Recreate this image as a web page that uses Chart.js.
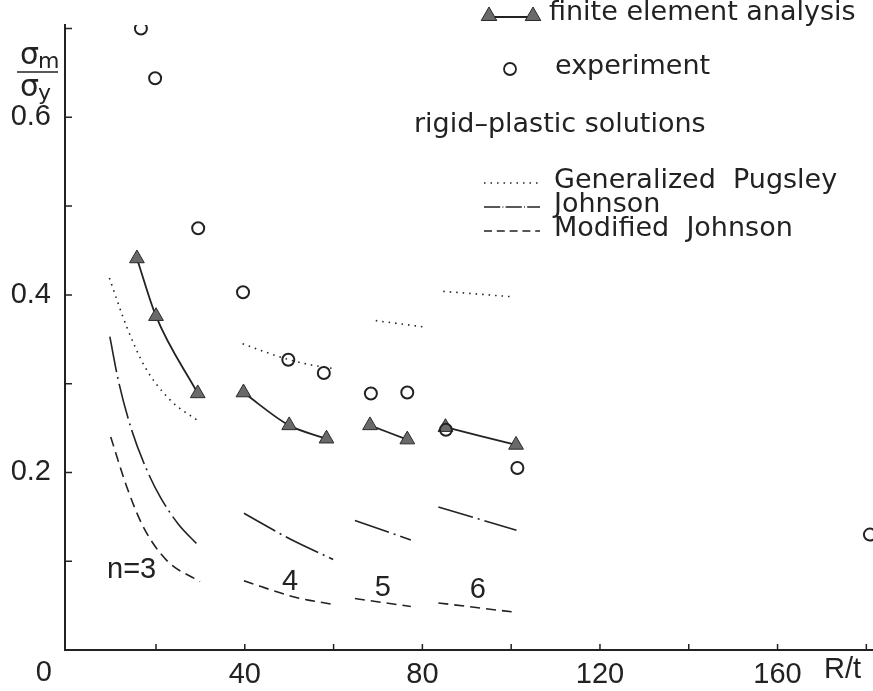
<!DOCTYPE html>
<html>
<head>
<meta charset="utf-8">
<script src="https://cdn.jsdelivr.net/npm/chart.js@4"></script>
<style>
  html, body { margin: 0; padding: 0; background: #fff; }
  #wrap { width: 873px; height: 691px; position: relative; }
</style>
</head>
<body>
<div id="wrap"><canvas id="chart"></canvas></div>
<script>
// tick positions
const xTicks = [20, 40, 60, 80, 100, 120, 140, 160, 180];
const yTicks = [0.1, 0.2, 0.3, 0.4, 0.5, 0.6, 0.7];
const xLabelled = [40, 80, 120, 160];
const yLabelled = [0.2, 0.4, 0.6];

// finite element analysis (R/t, sigma_m/sigma_y), one array per n
const feN3 = [[15.7, 0.441], [20.0, 0.376], [29.4, 0.289]];
const feN4 = [[39.7, 0.290], [50.0, 0.253], [58.4, 0.238]];
const feN5 = [[68.2, 0.253], [76.6, 0.237]];
const feN6 = [[85.2, 0.251], [101.1, 0.231]];

// experiment
const experiment = [
  [16.6, 0.700], [19.8, 0.644], [29.5, 0.475], [39.6, 0.403], [49.8, 0.327],
  [57.8, 0.312], [68.4, 0.289], [76.6, 0.290], [85.3, 0.248], [101.4, 0.205],
  [180.8, 0.130]
];

// rigid-plastic: generalized Pugsley
const pugN3 = [[9.5, 0.419], [13.4, 0.364], [17.5, 0.319], [23.1, 0.282], [29.8, 0.257]];
const pugN4 = [[39.5, 0.345], [45, 0.335], [50, 0.327], [55, 0.321], [60, 0.317]];
const pugN5 = [[69.5, 0.371], [80.2, 0.364]];
const pugN6 = [[84.7, 0.404], [99.9, 0.398]];

// rigid-plastic: Johnson
const johN3 = [[9.6, 0.353], [11.5, 0.304], [14.5, 0.248], [18, 0.202], [21, 0.172], [25, 0.142], [29.5, 0.118]];
const johN4 = [[39.8, 0.154], [50.2, 0.125], [59.9, 0.102]];
const johN5 = [[64.8, 0.146], [77.4, 0.124]];
const johN6 = [[83.6, 0.161], [101.2, 0.135]];

// rigid-plastic: modified Johnson
const modN3 = [[9.8, 0.240], [13.4, 0.184], [17.1, 0.139], [22.4, 0.101], [29.9, 0.077]];
const modN4 = [[39.8, 0.078], [50.9, 0.060], [60.1, 0.051]];
const modN5 = [[64.8, 0.058], [77.4, 0.049]];
const modN6 = [[83.6, 0.053], [100.1, 0.043]];

// n labels
const nLabels = ['n=3', '4', '5', '6'];
const nLabelPos = [[14.5, 0.090], [50.2, 0.077], [71.1, 0.070], [92.5, 0.068]];

const ink = '#222';
const pts = arr => arr.map(p => ({x: p[0], y: p[1]}));

const pugDash = [1.5, 5];
const johDash = [36, 5, 2, 5];
const modDash = [10, 6];

const curve = (data, dash) => ({
  data: pts(data),
  showLine: true,
  borderColor: ink,
  borderWidth: 1.6,
  borderDash: dash,
  pointRadius: 0,
  cubicInterpolationMode: 'monotone',
  order: 3
});

const fe = data => ({
  data: pts(data),
  showLine: true,
  borderColor: ink,
  borderWidth: 1.8,
  cubicInterpolationMode: 'monotone',
  pointStyle: 'triangle',
  pointRadius: 8.5,
  pointBackgroundColor: '#6a6a6a',
  pointBorderColor: '#2a2a2a',
  pointBorderWidth: 1,
  order: 2
});

const datasets = [
  curve(pugN3, pugDash), curve(pugN4, pugDash), curve(pugN5, pugDash), curve(pugN6, pugDash),
  curve(johN3, johDash), curve(johN4, johDash), curve(johN5, johDash), curve(johN6, johDash),
  curve(modN3, modDash), curve(modN4, modDash), curve(modN5, modDash), curve(modN6, modDash),
  fe(feN3), fe(feN4), fe(feN5), fe(feN6),
  {
    data: pts(experiment),
    showLine: false,
    pointStyle: 'circle',
    pointRadius: 6,
    pointBackgroundColor: 'rgba(0,0,0,0)',
    pointBorderColor: ink,
    pointBorderWidth: 2,
    order: 1
  }
];

const digitFont = '29px "Liberation Sans", Arial, sans-serif';
const textFont = '27px "DejaVu Sans", sans-serif';

const decorations = {
  id: 'decorations',
  afterDraw(chart) {
    const ctx = chart.ctx;
    const xs = chart.scales.x, ys = chart.scales.y;
    const area = chart.chartArea;
    ctx.save();
    ctx.strokeStyle = ink;
    ctx.fillStyle = ink;

    // inward tick marks
    ctx.lineWidth = 1.5;
    ctx.beginPath();
    xTicks.forEach(v => {
      const px = xs.getPixelForValue(v);
      ctx.moveTo(px, area.bottom);
      ctx.lineTo(px, area.bottom - 6);
    });
    yTicks.forEach(v => {
      const py = ys.getPixelForValue(v);
      ctx.moveTo(area.left, py);
      ctx.lineTo(area.left + 7, py);
    });
    ctx.stroke();

    // origin and axis titles
    ctx.font = digitFont;
    ctx.textBaseline = 'middle';
    ctx.textAlign = 'right';
    ctx.fillText('0', 52, 673);
    ctx.textAlign = 'left';
    ctx.fillText('R/t', 824, 670);

    // sigma_m / sigma_y
    ctx.font = '30px "DejaVu Sans", sans-serif';
    ctx.textBaseline = 'alphabetic';
    ctx.fillText('σ', 20, 64);
    ctx.fillText('σ', 20, 96);
    ctx.font = '22px "DejaVu Sans", sans-serif';
    ctx.fillText('m', 38, 68);
    ctx.fillText('y', 38, 100);
    ctx.lineWidth = 1.5;
    ctx.beginPath();
    ctx.moveTo(17, 72);
    ctx.lineTo(58, 72);
    ctx.stroke();

    // n labels
    ctx.font = digitFont;
    ctx.textAlign = 'center';
    ctx.textBaseline = 'middle';
    nLabels.forEach((t, i) => {
      ctx.fillText(t, xs.getPixelForValue(nLabelPos[i][0]), ys.getPixelForValue(nLabelPos[i][1]));
    });

    // legend
    ctx.font = textFont;
    ctx.textAlign = 'left';
    ctx.textBaseline = 'middle';
    ctx.lineWidth = 1.8;
    ctx.setLineDash([]);
    ctx.beginPath();
    ctx.moveTo(488, 17);
    ctx.lineTo(534, 17);
    ctx.stroke();
    const tri = {pointStyle: 'triangle', radius: 9, rotation: 0, borderWidth: 1};
    ctx.fillStyle = '#6a6a6a';
    ctx.strokeStyle = '#2a2a2a';
    ctx.lineWidth = 1;
    Chart.helpers.drawPoint(ctx, tri, 489, 16);
    Chart.helpers.drawPoint(ctx, tri, 533, 16);
    ctx.fillStyle = ink;
    ctx.strokeStyle = ink;
    ctx.fillText('finite element analysis', 549, 13);

    ctx.lineWidth = 1.8;
    ctx.beginPath();
    ctx.arc(510, 69, 6, 0, Math.PI * 2);
    ctx.stroke();
    ctx.fillText('experiment', 555, 67);

    ctx.fillText('rigid–plastic solutions', 414, 125);

    const rows = [
      [pugDash, 'Generalized  Pugsley', 181],
      [johDash.map(v => v * 0.45), 'Johnson', 205],
      [modDash.map(v => v * 0.8), 'Modified  Johnson', 229]
    ];
    ctx.lineWidth = 1.6;
    rows.forEach(r => {
      ctx.setLineDash(r[0]);
      ctx.beginPath();
      ctx.moveTo(484, r[2] + 2);
      ctx.lineTo(540, r[2] + 2);
      ctx.stroke();
      ctx.setLineDash([]);
      ctx.fillText(r[1], 554, r[2]);
    });
    ctx.restore();
  }
};

new Chart(document.getElementById('chart').getContext('2d'), {
  type: 'scatter',
  data: {datasets},
  options: {
    responsive: true,
    maintainAspectRatio: false,
    animation: false,
    devicePixelRatio: 1,
    layout: {autoPadding: false, padding: {top: 25, right: 0, left: 0, bottom: 0}},
    plugins: {legend: {display: false}, tooltip: {enabled: false}},
    scales: {
      x: {
        type: 'linear',
        min: -0.5,
        max: 181.5,
        afterFit: s => { s.height = 41; s.paddingLeft = 0; s.paddingRight = 0; },
        afterBuildTicks: s => { s.ticks = xLabelled.map(v => ({value: v})); },
        grid: {display: false, drawTicks: false},
        border: {display: true, color: ink, width: 2},
        ticks: {
          padding: 8,
          color: ink,
          font: {family: '"Liberation Sans", Arial, sans-serif', size: 29},
          maxRotation: 0,
          autoSkip: false
        }
      },
      y: {
        type: 'linear',
        min: 0,
        max: 0.704,
        afterFit: s => { s.width = 65; s.paddingTop = 0; s.paddingBottom = 0; },
        afterBuildTicks: s => { s.ticks = yLabelled.map(v => ({value: v})); },
        grid: {display: false, drawTicks: false},
        border: {display: true, color: ink, width: 2},
        ticks: {
          padding: 14,
          color: ink,
          font: {family: '"Liberation Sans", Arial, sans-serif', size: 29},
          autoSkip: false,
          callback: v => v.toFixed(1)
        }
      }
    }
  },
  plugins: [decorations]
});
</script>
</body>
</html>
